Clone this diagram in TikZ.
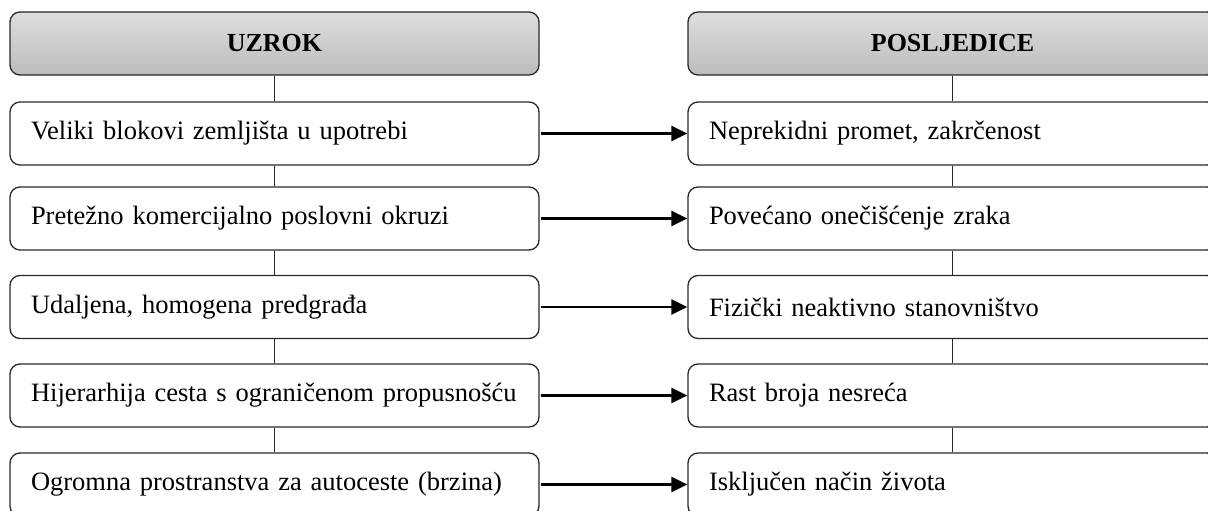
\documentclass[tikz,border=0pt]{standalone}
\usepackage{fontspec}
\setmainfont{Liberation Serif}
\usetikzlibrary{arrows.meta}
\definecolor{hdrtop}{RGB}{222,222,222}
\definecolor{hdrbot}{RGB}{188,188,188}
\definecolor{edge}{RGB}{40,40,40}
\begin{document}
\begin{tikzpicture}[x=1pt,y=-1pt,
  box/.style={draw=edge, line width=1.3pt, rounded corners=10pt, minimum height=63pt,
    text width=487pt, inner xsep=21pt, inner ysep=0pt, align=left,
    font=\fontsize{26.5}{31}\selectfont},
  hdr/.style={box, align=center, top color=hdrtop, bottom color=hdrbot,
    font=\fontsize{26}{30}\selectfont\bfseries},
  link/.style={draw=edge, line width=1pt},
  arr/.style={line width=2.5pt, -{Triangle[length=16pt,width=15pt]}, shorten <=1pt}]
\clip (0,0) rectangle (1208,511);
\fill[white] (0,0) rectangle (1208,511);

\node[hdr] (h1) at (274.5,43.5) {UZROK};
\node[hdr] (h2) at (952.5,43.5) {POSLJEDICE};

\node[box] (l1) at (274.5,133.5) {Veliki blokovi zemljišta u upotrebi};
\node[box] (l2) at (274.5,218.5) {Pretežno komercijalno poslovni okruzi};
\node[box] (l3) at (274.5,307) {Udaljena, homogena predgrađa};
\node[box] (l4) at (274.5,395.5) {Hijerarhija cesta s ograničenom propusnošću};
\node[box] (l5) at (274.5,484.5) {Ogromna prostranstva za autoceste (brzina)};

\node[box] (r1) at (952.5,133.5) {Neprekidni promet, zakrčenost};
\node[box] (r2) at (952.5,218.5) {Povećano onečišćenje zraka};
\node[box] (r3) at (952.5,307) {Fizički neaktivno stanovništvo};
\node[box] (r4) at (952.5,395.5) {Rast broja nesreća};
\node[box] (r5) at (952.5,484.5) {Isključen način života};

\draw[link] (h1) -- (l1);
\draw[link] (l1) -- (l2);
\draw[link] (l2) -- (l3);
\draw[link] (l3) -- (l4);
\draw[link] (l4) -- (l5);
\draw[link] (h2) -- (r1);
\draw[link] (r1) -- (r2);
\draw[link] (r2) -- (r3);
\draw[link] (r3) -- (r4);
\draw[link] (r4) -- (r5);

\draw[arr] (l1) -- (r1);
\draw[arr] (l2) -- (r2);
\draw[arr] (l3) -- (r3);
\draw[arr] (l4) -- (r4);
\draw[arr] (l5) -- (r5);
\end{tikzpicture}
\end{document}
